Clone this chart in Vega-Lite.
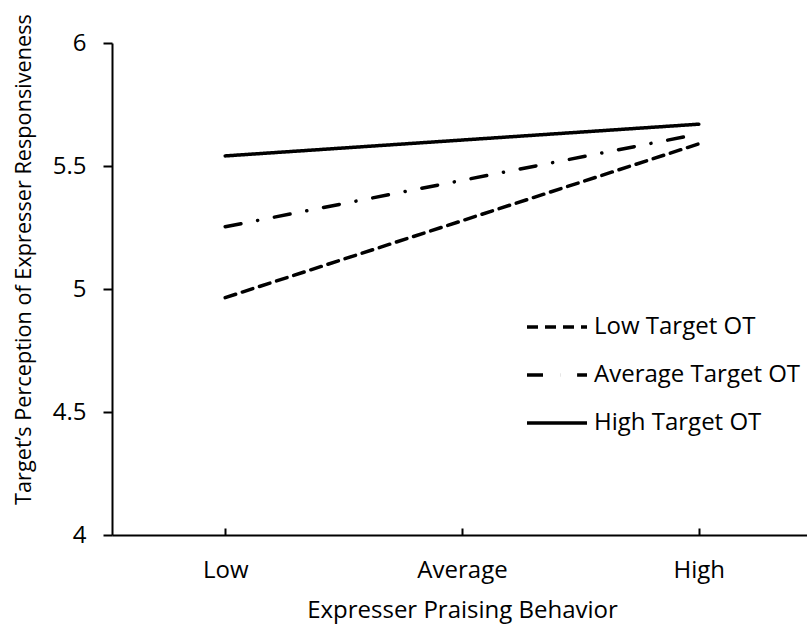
{
  "$schema": "https://vega.github.io/schema/vega-lite/v6.json",
  "width": 700,
  "height": 492,
  "autosize": {"type": "none"},
  "padding": {"left": 112, "top": 43, "right": 0, "bottom": 94},
  "background": "white",
  "config": {
    "view": {"stroke": null},
    "font": "Open Sans",
    "axis": {"grid": false, "domainColor": "black", "tickColor": "black", "labelColor": "black", "titleColor": "black", "domainWidth": 2, "tickWidth": 2, "labelFont": "Open Sans", "titleFont": "Open Sans", "titleFontWeight": "normal"}
  },
  "data": {
    "values": [
      {"praise": "Low", "group": "Low Target OT", "value": 4.965},
      {"praise": "High", "group": "Low Target OT", "value": 5.59},
      {"praise": "Low", "group": "Average Target OT", "value": 5.253},
      {"praise": "High", "group": "Average Target OT", "value": 5.63},
      {"praise": "Low", "group": "High Target OT", "value": 5.541},
      {"praise": "High", "group": "High Target OT", "value": 5.67}
    ]
  },
  "mark": {"type": "line", "color": "black", "strokeWidth": 3.5, "strokeCap": "round"},
  "encoding": {
    "x": {
      "field": "praise", "type": "nominal",
      "scale": {"type": "point", "domain": ["Low", "Average", "High"], "padding": 0.478},
      "axis": {"title": "Expresser Praising Behavior", "labelAngle": 0, "labelFontSize": 24, "titleFontSize": 24, "tickSize": -7, "labelPadding": 30, "titlePadding": 16}
    },
    "y": {
      "field": "value", "type": "quantitative",
      "scale": {"domain": [4, 6], "nice": false, "zero": false},
      "axis": {"title": "Target’s Perception of Expresser Responsiveness", "values": [4, 4.5, 5, 5.5, 6], "format": "~g", "labelFontSize": 24, "titleFontSize": 21.7, "tickSize": 9, "labelPadding": 17, "titleX": -77, "titleY": 216, "titleAngle": -90, "titleAlign": "center", "titleBaseline": "bottom"}
    },
    "strokeDash": {
      "field": "group", "type": "nominal",
      "scale": {"domain": ["Low Target OT", "Average Target OT", "High Target OT"], "range": [[11, 7], [16, 17, 0.1, 17], [1, 0]]},
      "legend": {"title": null, "orient": "none", "legendX": 413, "legendY": 252, "symbolType": "stroke", "symbolSize": 3600, "symbolStrokeWidth": 3.5, "symbolStrokeColor": "black", "labelFontSize": 24, "labelColor": "black", "labelOffset": 5, "labelLimit": 400, "rowPadding": 4, "padding": 0}
    }
  }
}
